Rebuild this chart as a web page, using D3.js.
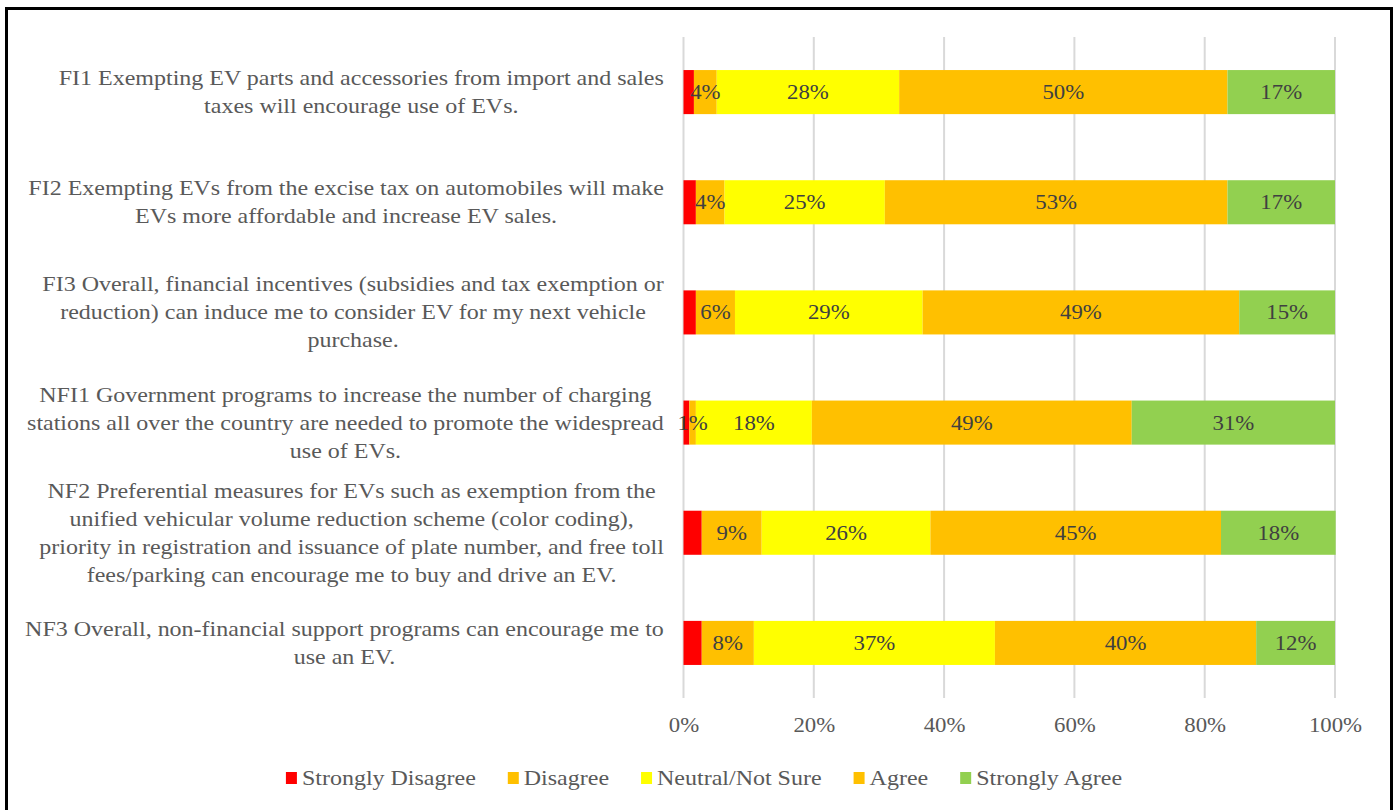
<!DOCTYPE html>
<html>
<head>
<meta charset="utf-8">
<script src="https://cdn.jsdelivr.net/npm/d3@7"></script>
<style>
  body { margin: 0; background: #fff; }
  svg { display: block; font-family: "Liberation Serif", "Times New Roman", serif; }
</style>
</head>
<body>
<div id="chart"></div>
<script>
// statements, each one split into the lines shown on the axis
var statements = [
  ["FI1 Exempting EV parts and accessories from import and sales", "taxes will encourage use of EVs."],
  ["FI2 Exempting EVs from the excise tax on automobiles will make", "EVs more affordable and increase EV sales."],
  ["FI3 Overall, financial incentives (subsidies and tax exemption or", "reduction) can induce me to consider EV for my next vehicle", "purchase."],
  ["NFI1 Government programs to increase the number of charging", "stations all over the country are needed to promote the widespread", "use of EVs."],
  ["NF2 Preferential measures for EVs such as exemption from the", "unified vehicular volume reduction scheme (color coding),", "priority in registration and issuance of plate number, and free toll", "fees/parking can encourage me to buy and drive an EV."],
  ["NF3 Overall, non-financial support programs can encourage me to", "use an EV."]
]

var responses = ["Strongly Disagree", "Disagree", "Neutral/Not Sure", "Agree", "Strongly Agree"]
var colors = ["#FF0000", "#FFC000", "#FFFF00", "#FFC000", "#92D050"]

// shares of respondents, one array per response, in statement order
var stronglyDisagree = [0.016, 0.019, 0.019, 0.009, 0.028, 0.028]
var disagree         = [0.035, 0.044, 0.060, 0.010, 0.092, 0.080]
var neutral          = [0.280, 0.246, 0.288, 0.178, 0.259, 0.370]
var agree            = [0.504, 0.526, 0.486, 0.491, 0.446, 0.401]
var stronglyAgree    = [0.165, 0.165, 0.147, 0.312, 0.176, 0.121]

var xTicks = [0, 0.2, 0.4, 0.6, 0.8, 1]

var W = 1398, H = 810
var margin = { top: 37, left: 683.5, right: 63, bottom: 112 }
var width = W - margin.left - margin.right
var height = H - margin.top - margin.bottom

// the source text is set wide, so stretch glyphs sideways
var wideCat = 1.2
var wideNum = 1.14

var series = [stronglyDisagree, disagree, neutral, agree, stronglyAgree]
var rows = statements.map(function(s, i) {
  var r = { name: i }
  responses.forEach(function(k, j) { r[k] = series[j][i] })
  return r
})
var stacked = d3.stack().keys(responses)(rows)

var svg = d3.select('#chart').append('svg')
  .attr('width', W)
  .attr('height', H)

// frame round the chart
svg.append('rect')
  .attr('x', 6.5).attr('y', 8.5)
  .attr('width', 1385).attr('height', 820)
  .attr('fill', 'none')
  .attr('stroke', '#000')
  .attr('stroke-width', 3)

var g = svg.append('g').attr('transform', 'translate(' + margin.left + ',' + margin.top + ')')

var x = d3.scaleLinear().domain([0, 1]).range([0, width])
var y = d3.scaleBand().domain(d3.range(statements.length)).range([0, height])
  .paddingInner(0.6).paddingOuter(0.3)

// gridlines
g.selectAll('.grid').data(xTicks).enter().append('line')
  .attr('x1', function(d) { return x(d) }).attr('x2', function(d) { return x(d) })
  .attr('y1', 0).attr('y2', height)
  .attr('stroke', '#D9D9D9').attr('stroke-width', 2)

// x axis labels
var xAxis = d3.axisBottom(x).tickValues(xTicks).tickFormat(d3.format('.0%')).tickSize(0).tickPadding(20)
var xg = g.append('g').attr('transform', 'translate(0,' + height + ')').call(xAxis)
xg.select('.domain').remove()
xg.selectAll('text').attr('font-size', 20).attr('fill', '#595959')
  .attr('font-family', '"Liberation Serif", "Times New Roman", serif')
  .attr('transform', 'scale(' + wideNum + ',1)')

// bars
var layer = g.selectAll('.layer').data(stacked).enter().append('g')
  .attr('fill', function(d, i) { return colors[i] })

layer.selectAll('rect').data(function(d) { return d }).enter().append('rect')
  .attr('x', function(d) { return x(d[0]) })
  .attr('width', function(d) { return x(d[1]) - x(d[0]) })
  .attr('y', function(d, i) { return y(i) })
  .attr('height', y.bandwidth())

// data labels (none on Strongly Disagree)
var fmt = d3.format('.0%')
stacked.forEach(function(s, j) {
  if (j == 0) return
  g.append('g').selectAll('text').data(s).enter().append('text')
    .attr('transform', function(d, i) {
      return 'translate(' + (x(d[0]) + x(d[1])) / 2 + ',' + (y(i) + y.bandwidth() / 2) + ') scale(' + wideNum + ',1)'
    })
    .attr('dy', '0.35em')
    .attr('text-anchor', 'middle')
    .attr('font-size', 20)
    .attr('fill', '#404040')
    .text(function(d) { return fmt(d[1] - d[0]) })
})

// category labels: lines centred in a block that is right aligned
var lineH = 28
var labelRight = 664
statements.forEach(function(lines, i) {
  var t = svg.append('text')
    .attr('font-size', 20)
    .attr('fill', '#595959')
    .attr('text-anchor', 'middle')
  var spans = lines.map(function(l) { return t.append('tspan').text(l) })
  var maxW = d3.max(spans, function(s) { return s.node().getComputedTextLength() }) * wideCat
  var cx = labelRight - maxW / 2
  var cy = margin.top + y(i) + y.bandwidth() / 2
  t.attr('transform', 'translate(' + cx + ',' + cy + ') scale(' + wideCat + ',1)')
  spans.forEach(function(s, k) {
    s.attr('x', 0).attr('y', (k - (lines.length - 1) / 2) * lineH).attr('dy', '0.35em')
  })
})

// legend
var legend = svg.append('g')
var lx = 0
responses.forEach(function(r, i) {
  var item = legend.append('g').attr('transform', 'translate(' + lx + ',0)')
  item.append('rect').attr('x', 0).attr('y', -6).attr('width', 11).attr('height', 12).attr('fill', colors[i])
  var t = item.append('text').attr('transform', 'translate(16,0) scale(' + wideCat + ',1)').attr('dy', '0.35em')
    .attr('font-size', 20).attr('fill', '#595959').text(r)
  lx += 16 + t.node().getComputedTextLength() * wideCat + 32
})
lx -= 32
legend.attr('transform', 'translate(' + (704 - lx / 2) + ',778)')
</script>
</body>
</html>
